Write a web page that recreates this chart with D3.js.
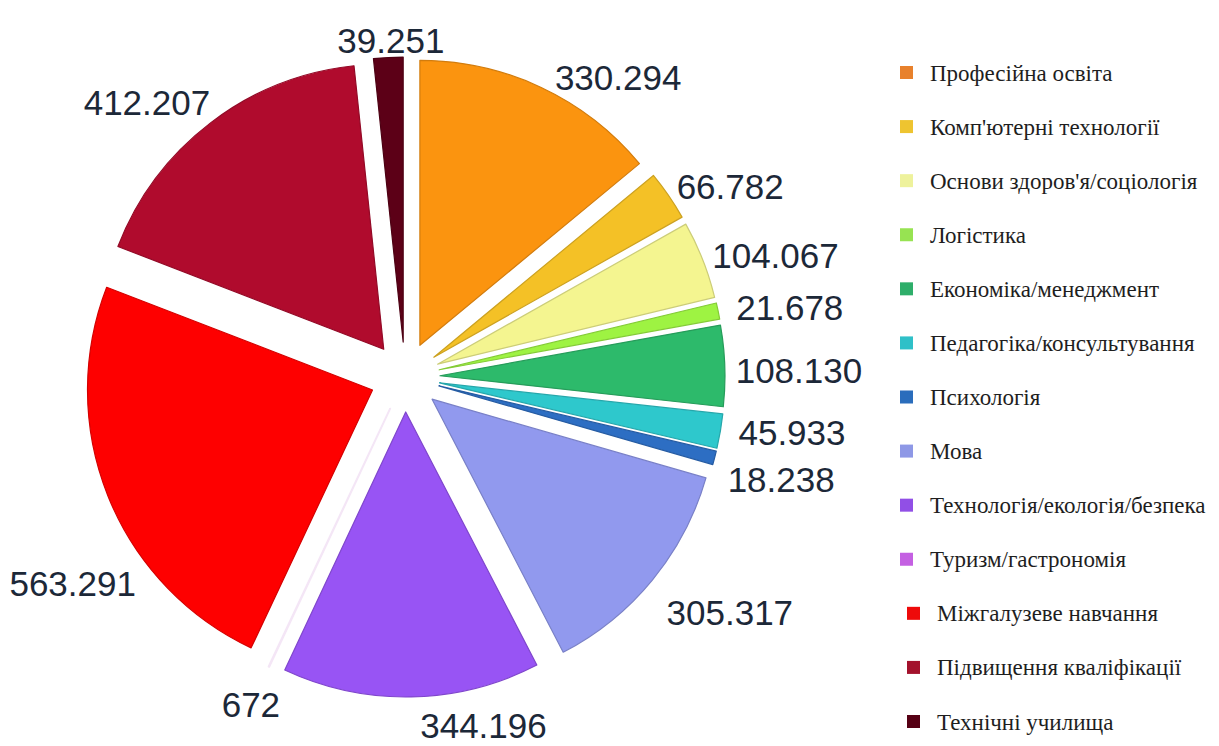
<!DOCTYPE html>
<html>
<head>
<meta charset="utf-8">
<script src="https://cdn.jsdelivr.net/npm/d3@7"></script>
<style>
  html, body { margin: 0; padding: 0; background: #ffffff; }
  svg { display: block; }
</style>
</head>
<body>
<svg id="chart" width="1219" height="746"></svg>
<script>
// Courses by field (number of enrolments)
const categories = [
  "Професійна освіта",
  "Комп'ютерні технології",
  "Основи здоров'я/соціологія",
  "Логістика",
  "Економіка/менеджмент",
  "Педагогіка/консультування",
  "Психологія",
  "Мова",
  "Технологія/екологія/безпека",
  "Туризм/гастрономія",
  "Міжгалузеве навчання",
  "Підвищення кваліфікації",
  "Технічні училища"
];
const values = [330294, 66782, 104067, 21678, 108130, 45933, 18238, 305317, 344196, 672, 563291, 412207, 39251];

// Slice and legend swatch colours
const sliceColors = ["#fb940f", "#f4c126", "#f4f590", "#9ef342", "#2dba6b", "#2ec8cc", "#2d6ec3",
                     "#9199ee", "#9854f4", "#e6b4ee", "#fe0000", "#b00b2d", "#5c0017"];
const legendColors = ["#e8812c", "#eec430", "#eef29c", "#97e352", "#2eae6a", "#2fc0c8", "#2a6dbc",
                      "#8e98e6", "#914fe6", "#c460e2", "#ee0a0a", "#a3122c", "#560014"];

// Where each value label sits: angle (deg, clockwise from 12 o'clock) and distance from pie centre
const labelAngles = [35.4, 59.6, 71.8, 79.8, 89.0, 98.2, 105.3, 125.9, 167.3, 205.2, 238.2, 316.8, 357.6];
const labelRadii  = [368, 377, 390, 391, 394, 391, 390, 401, 357, 362, 391, 377, 337];

const svg = d3.select("#chart");

const cx = 405, cy = 377;
const radius = 285;
const explode = 35;

const fmt = d3.formatLocale({ decimal: ",", thousands: ".", grouping: [3], currency: ["", ""] }).format(",d");

const pie = d3.pie().sort(null).value(d => d)(values);
const arc = d3.arc().innerRadius(0).outerRadius(radius);

const g = svg.append("g").attr("transform", `translate(${cx},${cy})`);

g.selectAll("path.slice")
  .data(pie)
  .join("path")
  .attr("class", "slice")
  .attr("transform", d => {
    const mid = (d.startAngle + d.endAngle) / 2;
    return `translate(${explode * Math.sin(mid)},${-explode * Math.cos(mid)})`;
  })
  .attr("d", arc)
  .attr("fill", (d, i) => sliceColors[i])
  .attr("stroke", (d, i) => i === 9 ? "#f4e6f6" : d3.color(sliceColors[i]).darker(0.5))
  .attr("stroke-width", (d, i) => i === 9 ? 2 : 1.2)
  .attr("stroke-linejoin", "round");

// Value labels
g.selectAll("text.val")
  .data(pie)
  .join("text")
  .attr("class", "val")
  .attr("x", (d, i) => labelRadii[i] * Math.sin(labelAngles[i] * Math.PI / 180))
  .attr("y", (d, i) => -labelRadii[i] * Math.cos(labelAngles[i] * Math.PI / 180))
  .attr("text-anchor", "middle")
  .attr("dominant-baseline", "central")
  .attr("font-family", "'Liberation Sans', Arial, sans-serif")
  .attr("font-size", 35)
  .attr("fill", "#1c2838")
  .text(d => fmt(d.value));

// Legend
const legendY = d3.scalePoint().domain(categories).range([73, 722]);
const legend = svg.append("g");
const rows = legend.selectAll("g.row")
  .data(categories)
  .join("g")
  .attr("class", "row")
  .attr("transform", (d, i) => `translate(${i >= 10 ? 7 : 0},${legendY(d)})`);

rows.append("rect")
  .attr("x", 900)
  .attr("y", -7)
  .attr("width", 13)
  .attr("height", 13)
  .attr("fill", (d, i) => legendColors[i]);

rows.append("text")
  .attr("x", 930)
  .attr("y", 0)
  .attr("dominant-baseline", "central")
  .attr("font-family", "'Liberation Serif', 'Times New Roman', serif")
  .attr("font-size", 23)
  .attr("fill", "#1e1e1e")
  .text(d => d);
</script>
</body>
</html>
